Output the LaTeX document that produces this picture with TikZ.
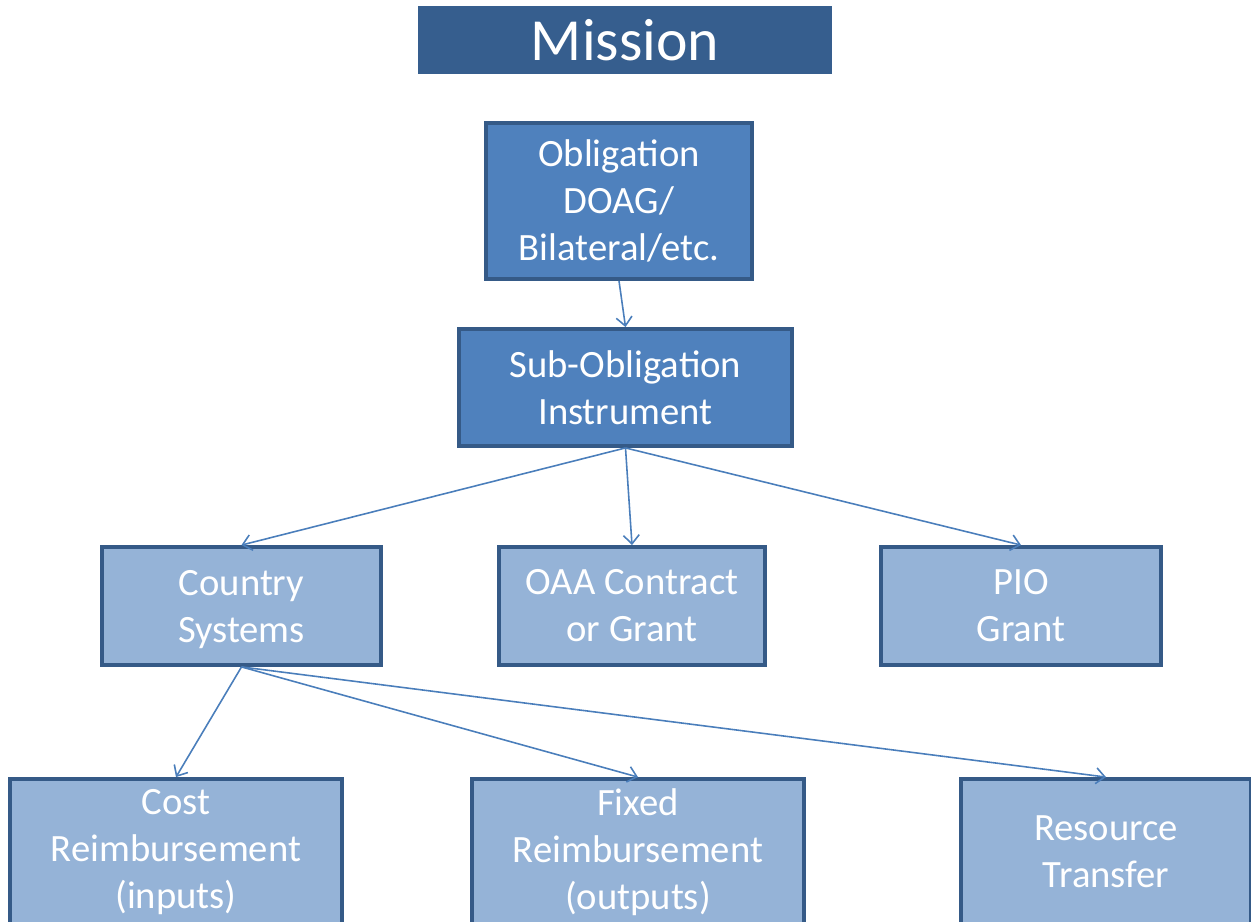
\documentclass[tikz,border=0pt]{standalone}
\usepackage{fontspec}
\setmainfont{Carlito}
\usetikzlibrary{arrows.meta}

\definecolor{missionblue}{HTML}{365E8E}
\definecolor{darkblue}{HTML}{4F81BD}
\definecolor{lightblue}{HTML}{95B3D7}
\definecolor{edgeblue}{HTML}{355A87}
\definecolor{arrowblue}{HTML}{4A7EBB}

\begin{document}
\begin{tikzpicture}[x=0.02cm,y=-0.02cm,
  box/.style={draw=edgeblue,line width=2.2pt,text=white,align=center,inner sep=0pt,
    font=\fontsize{22}{26.7}\selectfont},
  darkbox/.style={box,fill=darkblue},
  lightbox/.style={box,fill=lightblue},
  link/.style={draw=arrowblue,line width=0.9pt,-{Straight Barb[length=5pt,width=9pt]}}]
\clip (0,0) rectangle (1251,922);
\node[fill=missionblue,text=white,minimum width=8.28cm,minimum height=1.36cm,
  font=\fontsize{34}{40}\selectfont] (mission) at (625,40) {Mission};
\node[darkbox,minimum width=5.32cm,minimum height=3.12cm] (obl) at (619,201) {Obligation\\DOAG/\\Bilateral/etc.};
\node[darkbox,minimum width=6.66cm,minimum height=2.34cm] (sub) at (625.5,387.5) {Sub-Obligation\\Instrument};
\node[lightbox,minimum width=5.58cm,minimum height=2.36cm,text depth=-2pt] (country) at (241.5,606) {Country\\Systems};
\node[lightbox,minimum width=5.32cm,minimum height=2.36cm] (oaa) at (632,606) {OAA Contract\\or Grant};
\node[lightbox,minimum width=5.6cm,minimum height=2.36cm] (pio) at (1021,606) {PIO\\Grant};
\node[lightbox,minimum width=6.64cm,minimum height=2.92cm] (cost) at (176,852) {Cost\\Reimbursement\\(inputs)};
\node[lightbox,minimum width=6.64cm,minimum height=2.92cm] (fixed) at (638,852) {Fixed\\Reimbursement\\(outputs)};
\node[lightbox,minimum width=5.8cm,minimum height=2.92cm] (resource) at (1106,852) {Resource\\Transfer};
\draw[link] (obl.south) -- (sub.north);
\draw[link] (sub.south) -- (country.north);
\draw[link] (sub.south) -- (oaa.north);
\draw[link] (sub.south) -- (pio.north);
\draw[link] (country.south) -- (cost.north);
\draw[link] (country.south) -- (fixed.north);
\draw[link] (country.south) -- (resource.north);
\end{tikzpicture}
\end{document}
